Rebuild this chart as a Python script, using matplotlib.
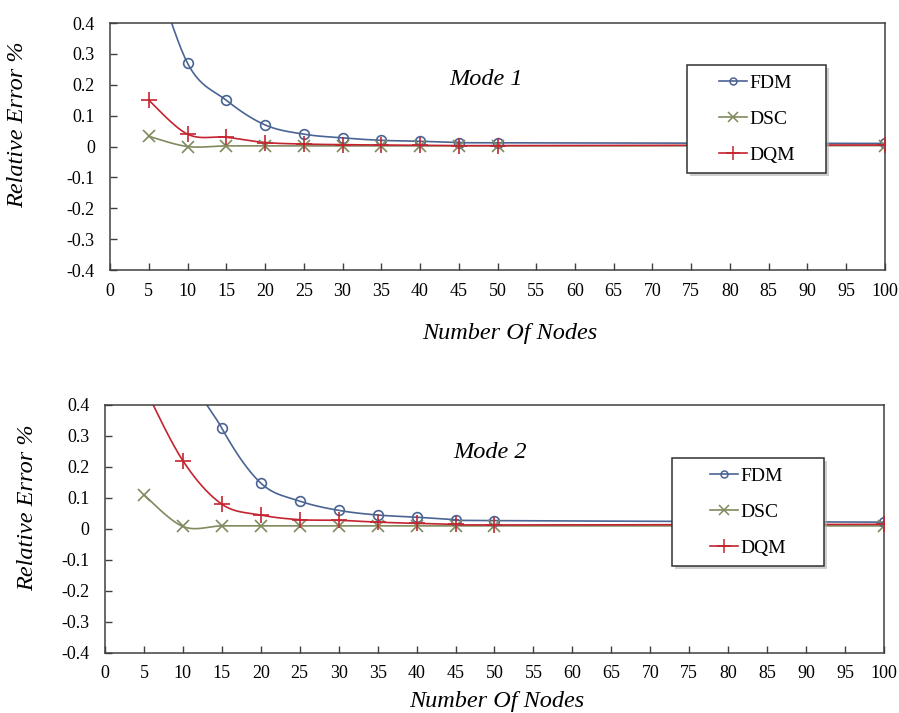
import numpy as np
import matplotlib
matplotlib.use("Agg")
import matplotlib.pyplot as plt
from matplotlib.patches import Rectangle

plt.rcParams['font.family'] = ['Liberation Serif', 'DejaVu Serif']

nodes = [5, 10, 15, 20, 25, 30, 35, 40, 45, 50, 100]

mode1_fdm = [0.63, 0.27, 0.15, 0.07, 0.04, 0.028, 0.02, 0.017, 0.013, 0.012, 0.01]
mode1_dsc = [0.033, 0.0, 0.002, 0.002, 0.002, 0.002, 0.002, 0.002, 0.002, 0.002, 0.003]
mode1_dqm = [0.15, 0.04, 0.03, 0.013, 0.008, 0.006, 0.005, 0.004, 0.003, 0.003, 0.005]

mode2_fdm = [1.4, 0.6, 0.325, 0.148, 0.09, 0.06, 0.045, 0.038, 0.03, 0.027, 0.022]
mode2_dsc = [0.11, 0.008, 0.01, 0.01, 0.01, 0.01, 0.01, 0.01, 0.01, 0.01, 0.01]
mode2_dqm = [0.46, 0.22, 0.08, 0.045, 0.03, 0.028, 0.022, 0.018, 0.015, 0.013, 0.015]

series_names = ["FDM", "DSC", "DQM"]
colors = {"FDM": "#4a6494", "DSC": "#7f8a5e", "DQM": "#c42430"}
markers = {"FDM": "o", "DSC": "x", "DQM": "+"}
msizes = {"FDM": 7, "DSC": 9, "DQM": 12}

xticks = list(range(0, 101, 5))
yticks = [0.4, 0.3, 0.2, 0.1, 0.0, -0.1, -0.2, -0.3, -0.4]
ytick_labels = ["0.4", "0.3", "0.2", "0.1", "0", "-0.1", "-0.2", "-0.3", "-0.4"]


def smooth(x, y, n=40):
    """Excel-like smoothed line (cubic Bezier through points)."""
    x = np.asarray(x, float)
    y = np.asarray(y, float)
    px, py = [], []
    m = len(x)
    for i in range(m - 1):
        i0 = max(i - 1, 0)
        i3 = min(i + 2, m - 1)
        c1x = x[i] + (x[i + 1] - x[i0]) / 6
        c1y = y[i] + (y[i + 1] - y[i0]) / 6
        c2x = x[i + 1] - (x[i3] - x[i]) / 6
        c2y = y[i + 1] - (y[i3] - y[i]) / 6
        t = np.linspace(0, 1, n)
        bx = (1 - t) ** 3 * x[i] + 3 * (1 - t) ** 2 * t * c1x + 3 * (1 - t) * t ** 2 * c2x + t ** 3 * x[i + 1]
        by = (1 - t) ** 3 * y[i] + 3 * (1 - t) ** 2 * t * c1y + 3 * (1 - t) * t ** 2 * c2y + t ** 3 * y[i + 1]
        px.extend(bx)
        py.extend(by)
    return np.array(px), np.array(py)


fig = plt.figure(figsize=(8.99, 7.13), dpi=100)
ax1 = fig.add_axes([0.1224, 0.6213, 0.862, 0.3464])
ax2 = fig.add_axes([0.1168, 0.0842, 0.8665, 0.3478])

configs = [
    (ax1, {"FDM": mode1_fdm, "DSC": mode1_dsc, "DQM": mode1_dqm}, "Mode 1", (0.485, 0.773),
     (0.745, 0.393, 0.179, 0.437), (-0.106, 0.587), (0.516, -0.215)),
    (ax2, {"FDM": mode2_fdm, "DSC": mode2_dsc, "DQM": mode2_dqm}, "Mode 2", (0.494, 0.81),
     (0.728, 0.351, 0.195, 0.435), (-0.086, 0.585), (0.503, -0.152)),
]

for ax, data, title, tpos, lbox, ylab, xlab in configs:
    handles = []
    for name in series_names:
        sx, sy = smooth(nodes, data[name])
        ax.plot(sx, sy, color=colors[name], lw=1.2, zorder=2)
        ax.plot(nodes, data[name], linestyle="none", marker=markers[name],
                markersize=msizes[name], markerfacecolor="none",
                markeredgecolor=colors[name], markeredgewidth=1.2, zorder=3)
        h, = ax.plot([], [], color=colors[name], lw=1.2, marker=markers[name],
                     markersize=msizes[name] - 2, markerfacecolor="none",
                     markeredgecolor=colors[name], markeredgewidth=1.1, label=name)
        handles.append(h)
    ax.set_xlim(0, 100)
    ax.set_ylim(-0.4, 0.4)
    ax.set_xticks(xticks)
    ax.set_xticklabels([str(v) for v in xticks], fontsize=13)
    ax.set_yticks(yticks)
    ax.set_yticklabels(ytick_labels, fontsize=13)
    ax.tick_params(direction="in", length=5, width=1, color="#404040")
    ax.tick_params(axis="x", pad=9)
    ax.tick_params(axis="y", pad=11)
    for sp in ax.spines.values():
        sp.set_color("#404040")
        sp.set_linewidth(1.1)
    ax.set_ylabel("Relative Error %", fontsize=17.5, style="italic")
    ax.yaxis.set_label_coords(*ylab)
    ax.set_xlabel("Number Of Nodes", fontsize=17.5, style="italic")
    ax.xaxis.set_label_coords(*xlab)
    ax.text(tpos[0], tpos[1], title, transform=ax.transAxes, fontsize=17.5,
            style="italic", ha="center", va="center")
    # legend box with shadow
    x0, y0, w, h = lbox
    shadow = Rectangle((x0 + 0.004, y0 - 0.012), w, h, transform=ax.transAxes,
                       facecolor="#b0b0b0", edgecolor="none", alpha=0.6, zorder=4)
    box = Rectangle((x0, y0), w, h, transform=ax.transAxes,
                    facecolor="white", edgecolor="#303030", lw=1.1, zorder=5)
    ax.add_patch(shadow)
    ax.add_patch(box)
    leg = ax.legend(handles=handles, loc="center",
                    bbox_to_anchor=(x0 + w / 2, y0 + h / 2),
                    frameon=False, fontsize=14, labelspacing=0.95,
                    handlelength=1.45, handletextpad=0.1)
    leg.set_zorder(6)

fig.savefig("out.png", dpi=100, facecolor="white")
